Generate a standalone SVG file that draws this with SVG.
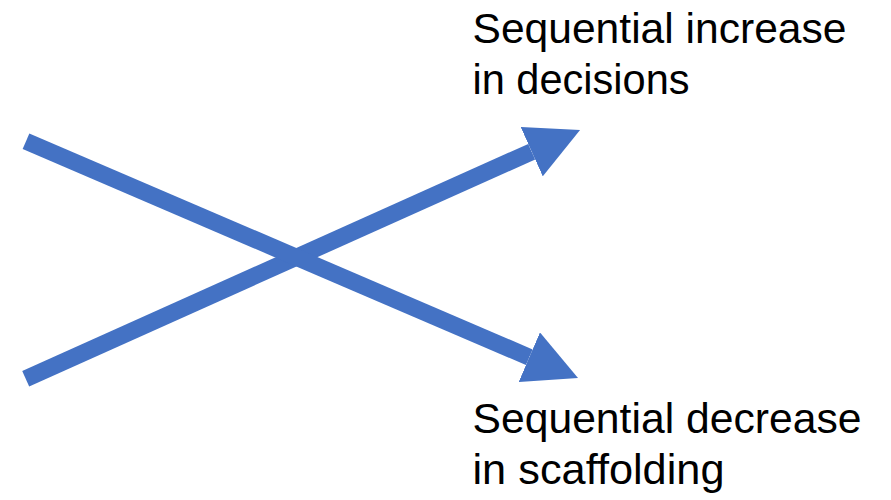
<svg xmlns="http://www.w3.org/2000/svg" width="891" height="500" viewBox="0 0 891 500">
  <defs>
    <marker id="head" markerUnits="userSpaceOnUse" viewBox="0 0 53 54" markerWidth="53" markerHeight="54" refX="0" refY="27" orient="auto">
      <path d="M0,0 L53,27 L0,54 Z" fill="#4472C4"/>
    </marker>
    <style>
      .arrow { stroke: #4472C4; stroke-width: 17; fill: none; stroke-linecap: butt; marker-end: url(#head); }
      .label { font-family: "Liberation Sans", Arial, sans-serif; font-size: 43px; fill: #000; }
    </style>
  </defs>
  <rect width="891" height="500" fill="#fff"/>
  <g id="connectors">
    <line class="arrow" x1="25.7" y1="378.7" x2="531.7" y2="151.7"/>
    <line class="arrow" x1="26" y1="141.3" x2="529.3" y2="357.2"/>
  </g>
  <g id="increase-label">
    <text class="label" x="472.5" y="42.7" textLength="374" lengthAdjust="spacingAndGlyphs">Sequential increase</text>
    <text class="label" x="472.5" y="94.3" textLength="217" lengthAdjust="spacingAndGlyphs">in decisions</text>
  </g>
  <g id="decrease-label">
    <text class="label" x="472.5" y="432.7" textLength="389" lengthAdjust="spacingAndGlyphs">Sequential decrease</text>
    <text class="label" x="472.5" y="484" textLength="252" lengthAdjust="spacingAndGlyphs">in scaffolding</text>
  </g>
</svg>
